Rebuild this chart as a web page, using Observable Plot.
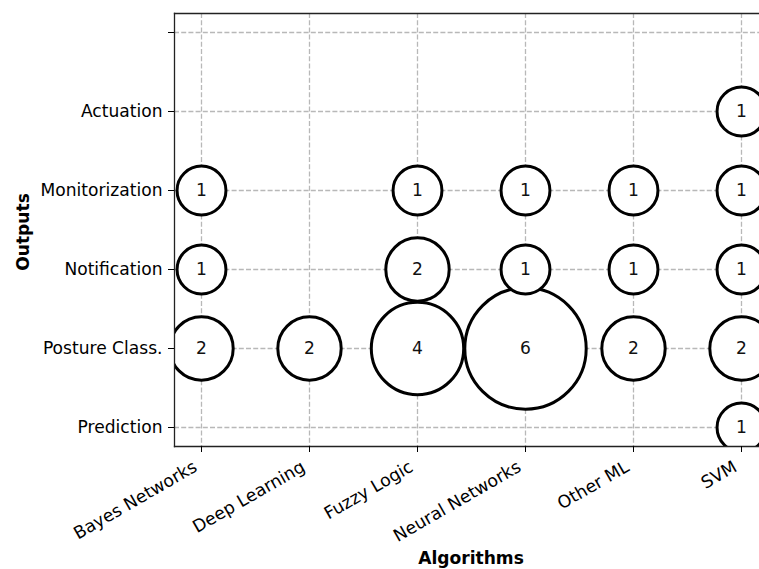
<!DOCTYPE html>
<html>
<head>
<meta charset="utf-8">
<script src="https://cdn.jsdelivr.net/npm/d3@7"></script>
<script src="https://cdn.jsdelivr.net/npm/@observablehq/plot@0.6"></script>
<style>
  html, body { margin: 0; padding: 0; background: white; overflow: hidden; }
  svg { overflow: hidden; }
</style>
</head>
<body>
<div id="chart"></div>
<script>
const algorithms = ["Bayes Networks", "Deep Learning", "Fuzzy Logic", "Neural Networks", "Other ML", "SVM"];
const outputs = ["Prediction", "Posture Class.", "Notification", "Monitorization", "Actuation"];
const yTicks = [...outputs, ""];
// counts per output, in algorithm order (0 = no study)
const prediction     = [0, 0, 0, 0, 0, 1];
const postureClass   = [2, 2, 4, 6, 2, 2];
const notification   = [1, 0, 2, 1, 1, 1];
const monitorization = [1, 0, 1, 1, 1, 1];
const actuation      = [0, 0, 0, 0, 0, 1];
const rows = [prediction, postureClass, notification, monitorization, actuation];

const data = [];
rows.forEach((row, i) => row.forEach((v, j) => {
  if (v > 0) data.push({output: outputs[i], algorithm: algorithms[j], count: v});
}));

const FS = 17.1;
const chart = Plot.plot({
  width: 759,
  height: 569,
  marginLeft: 174,
  marginRight: 0,
  marginTop: 13,
  marginBottom: 123,
  style: {fontFamily: "DejaVu Sans", fontSize: FS + "px", background: "white", color: "black"},
  x: {type: "point", domain: algorithms, range: [201, 741], padding: 0, label: null},
  y: {type: "point", domain: yTicks, range: [427, 32], padding: 0, label: null},
  r: {type: "linear", domain: [0, 6], range: [17.2, 60.7]},
  marks: [
    Plot.gridX({stroke: "#b8b8b8", strokeOpacity: 1, strokeWidth: 1.3, strokeDasharray: "5,2.2"}),
    Plot.gridY({stroke: "#b8b8b8", strokeOpacity: 1, strokeWidth: 1.3, strokeDasharray: "5,2.2"}),
    Plot.dot(data, {x: "algorithm", y: "output", r: "count", fill: "white", stroke: "black", strokeWidth: 3, clip: true}),
    Plot.text(data, {x: "algorithm", y: "output", text: d => String(d.count), fontSize: FS, fill: "#111"}),
    Plot.frame({anchor: "left", stroke: "#222", strokeWidth: 1.3}),
    Plot.frame({anchor: "top", stroke: "#222", strokeWidth: 1.3}),
    Plot.frame({anchor: "bottom", stroke: "#222", strokeWidth: 1.3}),
    Plot.axisX({tickSize: 6, tickFormat: () => "", label: null}),
    Plot.axisX({tickSize: 0, tickPadding: 19, dx: -6, tickRotate: -30, fontSize: 17.3, label: null}),
    Plot.axisY({tickSize: 6, tickPadding: 6, fontSize: FS, label: null}),
    Plot.text(["Outputs"], {frameAnchor: "left", textAnchor: "middle", lineAnchor: "middle", dx: -151, dy: 2, rotate: -90, fontWeight: "bold", fontSize: FS}),
    Plot.text(["Algorithms"], {frameAnchor: "bottom", textAnchor: "middle", lineAnchor: "middle", dx: 4, dy: 112, fontWeight: "bold", fontSize: FS})
  ]
});
document.getElementById("chart").appendChild(chart);
</script>
</body>
</html>
